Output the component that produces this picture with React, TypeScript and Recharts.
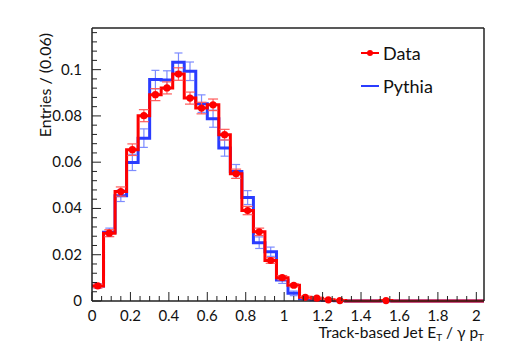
import { ComposedChart, ErrorBar, Legend, Line, Scatter, XAxis, YAxis } from "recharts"

// 34 bins of width 0.06 between 0 and 2.04
const BIN_WIDTH = 0.06
const X_MAX = 2.04
const Y_MAX = 0.118

const dataValues = [
    0.0065, 0.0293, 0.0473, 0.0654, 0.0801, 0.0892, 0.0921, 0.0981, 0.0877, 0.0834,
    0.0848, 0.0719, 0.055, 0.0391, 0.0299, 0.0175, 0.0101, 0.0068, 0.0016, 0.0012,
    0.0005, 0.0002, 0, 0, 0, 0.0002, 0, 0, 0, 0, 0, 0, 0, 0,
]
const dataErrors = [
    0.0008, 0.0015, 0.002, 0.0025, 0.0026, 0.0026, 0.0026, 0.0027, 0.0026, 0.0025,
    0.0025, 0.0023, 0.002, 0.0018, 0.0016, 0.0012, 0.0009, 0.0007, 0.0004, 0.0003,
    0.0002, 0.0002, 0, 0, 0, 0.0001, 0, 0, 0, 0, 0, 0, 0, 0,
]
const pythiaValues = [
    0.0065, 0.0297, 0.0455, 0.0599, 0.0704, 0.0957, 0.0955, 0.1032, 0.0993, 0.0853,
    0.0788, 0.0661, 0.056, 0.0447, 0.0252, 0.0213, 0.0091, 0.0033, 0.001, 0.0005,
    0.0002, 0.0001, 0, 0, 0, 0, 0, 0, 0, 0, 0, 0, 0, 0,
]
const pythiaErrors = [
    0.001, 0.0018, 0.0025, 0.0035, 0.004, 0.004, 0.004, 0.004, 0.004, 0.0038,
    0.0037, 0.0035, 0.003, 0.003, 0.0025, 0.002, 0.0015, 0.001, 0.0005, 0.0003,
    0.0002, 0.0001, 0, 0, 0, 0, 0, 0, 0, 0, 0, 0, 0, 0,
]

const xMajorTicks = [0, 0.2, 0.4, 0.6, 0.8, 1, 1.2, 1.4, 1.6, 1.8, 2]
const yMajorTicks = [0, 0.02, 0.04, 0.06, 0.08, 0.1]
const xTicks = Array.from({ length: 41 }, (_, i) => +(i * 0.05).toFixed(3))
const yTicks = Array.from({ length: 30 }, (_, i) => +(i * 0.004).toFixed(3))

const RED = "#ff0000"
const BLUE = "#2a3cff"
const FRAME = "#222"
const FONT = "Lato, sans-serif"

// step outline: one point per bin edge, last bin repeated at the right edge
const stepRows = Array.from({ length: dataValues.length + 1 }, (_, i) => {
    const k = Math.min(i, dataValues.length - 1)
    return { x: +(i * BIN_WIDTH).toFixed(3), data: dataValues[k], pythia: pythiaValues[k] }
})
const dataPoints = dataValues
    .map((v, i) => ({ x: (i + 0.5) * BIN_WIDTH, y: v, err: dataErrors[i] }))
    .filter((p) => p.y > 0)
const pythiaPoints = pythiaValues
    .map((v, i) => ({ x: (i + 0.5) * BIN_WIDTH, y: v, err: pythiaErrors[i] }))
    .filter((p) => p.y > 0)

const isMajor = (v: number, list: number[]) => list.some((m) => Math.abs(m - v) < 1e-6)
const fmt = (v: number) => String(+v.toFixed(3))

const BottomTick = ({ x, y, payload }: any) => {
    const major = isMajor(payload.value, xMajorTicks)
    return (
        <g>
            <line x1={x} y1={y} x2={x} y2={y - (major ? 9 : 5)} stroke={FRAME} strokeWidth={1} />
            {major && (
                <text x={x} y={y + 20} textAnchor="middle" fontSize={15} fontFamily={FONT} fill="#111">
                    {fmt(payload.value)}
                </text>
            )}
        </g>
    )
}

const TopTick = ({ x, y, payload }: any) => {
    const major = isMajor(payload.value, xMajorTicks)
    return <line x1={x} y1={y} x2={x} y2={y + (major ? 9 : 5)} stroke={FRAME} strokeWidth={1} />
}

const LeftTick = ({ x, y, payload }: any) => {
    const major = isMajor(payload.value, yMajorTicks)
    return (
        <g>
            <line x1={x} y1={y} x2={x + (major ? 9 : 5)} y2={y} stroke={FRAME} strokeWidth={1} />
            {major && (
                <text x={x - 10} y={y + 5} textAnchor="end" fontSize={15} fontFamily={FONT} fill="#111">
                    {fmt(payload.value)}
                </text>
            )}
        </g>
    )
}

const RightTick = ({ x, y, payload }: any) => {
    const major = isMajor(payload.value, yMajorTicks)
    return <line x1={x} y1={y} x2={x - (major ? 9 : 5)} y2={y} stroke={FRAME} strokeWidth={1} />
}

const LegendBox = () => (
    <div style={{ fontFamily: FONT, fontSize: 18, color: "#111" }}>
        {[
            { name: "Data", color: RED, dot: true },
            { name: "Pythia", color: BLUE, dot: false },
        ].map((item) => (
            <div key={item.name} style={{ display: "flex", alignItems: "center", height: 33 }}>
                <svg width={22} height={10}>
                    <line x1={3} y1={5} x2={21} y2={5} stroke={item.color} strokeWidth={2} />
                    {item.dot && <circle cx={12} cy={5} r={3} fill={item.color} />}
                </svg>
                <span style={{ marginLeft: 3 }}>{item.name}</span>
            </div>
        ))}
    </div>
)

export default function App() {
    return (
        <div style={{ position: "absolute", left: 0, top: 0 }}>
            <ComposedChart
                width={511}
                height={347}
                margin={{ top: 18, right: 17, bottom: 16, left: 52 }}
            >
                <XAxis
                    xAxisId="b"
                    dataKey="x"
                    type="number"
                    domain={[0, X_MAX]}
                    ticks={xTicks}
                    interval={0}
                    height={30}
                    tickSize={0}
                    tickMargin={0}
                    tickLine={false}
                    tick={BottomTick}
                    axisLine={{ stroke: FRAME, strokeWidth: 1.5 }}
                />
                <XAxis
                    xAxisId="t"
                    orientation="top"
                    type="number"
                    domain={[0, X_MAX]}
                    ticks={xTicks}
                    interval={0}
                    height={10}
                    tickSize={0}
                    tickMargin={0}
                    tickLine={false}
                    tick={TopTick}
                    axisLine={{ stroke: FRAME, strokeWidth: 1.5 }}
                />
                <YAxis
                    yAxisId="l"
                    type="number"
                    domain={[0, Y_MAX]}
                    ticks={yTicks}
                    interval={0}
                    width={40}
                    tickSize={0}
                    tickMargin={0}
                    tickLine={false}
                    tick={LeftTick}
                    axisLine={{ stroke: FRAME, strokeWidth: 1.5 }}
                />
                <YAxis
                    yAxisId="r"
                    orientation="right"
                    type="number"
                    domain={[0, Y_MAX]}
                    ticks={yTicks}
                    interval={0}
                    width={10}
                    tickSize={0}
                    tickMargin={0}
                    tickLine={false}
                    tick={RightTick}
                    axisLine={{ stroke: FRAME, strokeWidth: 1.5 }}
                />
                <Legend
                    layout="vertical"
                    align="center"
                    verticalAlign="middle"
                    content={LegendBox}
                    wrapperStyle={{ left: 358, top: 36, width: 110 }}
                />
                <Scatter
                    xAxisId="b"
                    yAxisId="l"
                    data={pythiaPoints}
                    dataKey="y"
                    shape={() => <g />}
                    isAnimationActive={false}
                >
                    <ErrorBar dataKey="err" direction="y" width={4} stroke="#7d8cff" strokeWidth={1.2} />
                </Scatter>
                <Line
                    xAxisId="b"
                    yAxisId="l"
                    data={stepRows}
                    dataKey="pythia"
                    type="stepAfter"
                    stroke={BLUE}
                    strokeWidth={3}
                    dot={false}
                    isAnimationActive={false}
                />
                <Line
                    xAxisId="b"
                    yAxisId="l"
                    data={stepRows}
                    dataKey="data"
                    type="stepAfter"
                    stroke={RED}
                    strokeWidth={3}
                    dot={false}
                    isAnimationActive={false}
                />
                <Scatter
                    xAxisId="b"
                    yAxisId="l"
                    data={dataPoints}
                    dataKey="y"
                    shape={(p: any) => <circle cx={p.cx} cy={p.cy} r={3.6} fill={RED} />}
                    isAnimationActive={false}
                >
                    <ErrorBar dataKey="err" direction="y" width={5} stroke="#ff5a5a" strokeWidth={1.2} />
                </Scatter>
            </ComposedChart>
            <svg
                width={511}
                height={347}
                style={{ position: "absolute", left: 0, top: 0, pointerEvents: "none" }}
            >
                <text
                    transform="translate(51 33) rotate(-90)"
                    textAnchor="end"
                    fontSize={16}
                    fontFamily={FONT}
                    fill="#111"
                >
                    Entries / (0.06)
                </text>
                <text x={484} y={338} textAnchor="end" fontSize={15.5} fontFamily={FONT} fill="#111">
                    Track-based Jet E
                    <tspan fontSize={10} dy={3}>T</tspan>
                    <tspan dy={-3}> /  γ p</tspan>
                    <tspan fontSize={10} dy={3}>T</tspan>
                </text>
            </svg>
        </div>
    )
}
